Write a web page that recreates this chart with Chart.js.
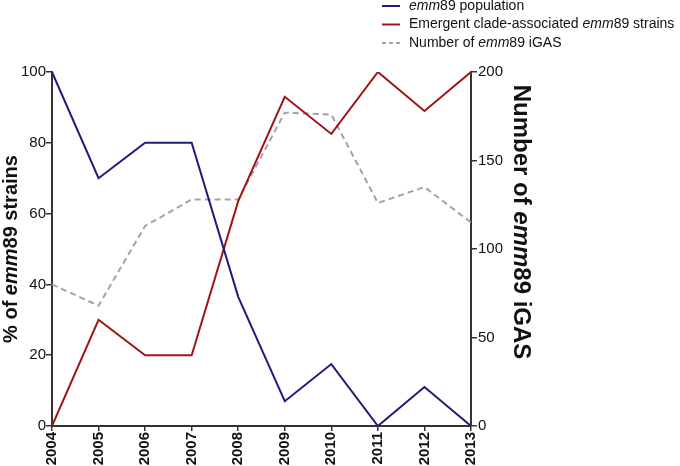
<!DOCTYPE html>
<html>
<head>
<meta charset="utf-8">
<script src="https://cdn.jsdelivr.net/npm/chart.js@4.4.1/dist/chart.umd.min.js"></script>
<style>
  html, body { margin: 0; padding: 0; background: #fff; }
  #wrap { width: 680px; height: 466px; }
</style>
</head>
<body>
<div id="wrap"><canvas id="chart" width="680" height="466"></canvas></div>
<script>
// Data
const years = ['2004', '2005', '2006', '2007', '2008', '2009', '2010', '2011', '2012', '2013'];
const emm89Population = [100, 70, 80, 80, 36.5, 7, 17.5, 0, 11, 0];
const emergentClade = [0, 30, 20, 20, 63.5, 93, 82.5, 100, 89, 100];
const iGASCount = [80, 68, 113, 128, 128, 177, 176, 126, 135, 115];

const blue = '#1c1c7c';
const red = '#a11414';
const grey = '#a3a3a3';
const axisColor = '#333333';

// draws text where some parts are italic
function drawParts(ctx, parts, size, weight) {
    let total = 0;
    parts.forEach(p => {
        ctx.font = `${p.i ? 'italic ' : ''}${weight} ${size}px "Liberation Sans", Arial, sans-serif`;
        p.w = ctx.measureText(p.t).width;
        total += p.w;
    });
    return total;
}

function writeParts(ctx, parts, x, y, size, weight) {
    let cx = x;
    parts.forEach(p => {
        ctx.font = `${p.i ? 'italic ' : ''}${weight} ${size}px "Liberation Sans", Arial, sans-serif`;
        ctx.fillText(p.t, cx, y);
        cx += p.w;
    });
}

const labelsPlugin = {
    id: 'labelsPlugin',
    afterDraw(chart) {
        const ctx = chart.ctx;
        const area = chart.chartArea;
        ctx.save();
        ctx.fillStyle = '#111';
        ctx.textBaseline = 'middle';
        ctx.textAlign = 'left';

        // Left axis title
        const leftParts = [{ t: '% of ' }, { t: 'emm', i: true }, { t: '89 strains' }];
        let w = drawParts(ctx, leftParts, 20, 'bold');
        ctx.save();
        ctx.translate(11, (area.top + area.bottom) / 2);
        ctx.rotate(-Math.PI / 2);
        writeParts(ctx, leftParts, -w / 2, 0, 20, 'bold');
        ctx.restore();

        // Right axis title
        const rightParts = [{ t: 'Number of ' }, { t: 'emm', i: true }, { t: '89 iGAS' }];
        w = drawParts(ctx, rightParts, 24, 'bold');
        ctx.save();
        ctx.translate(521, 222);
        ctx.rotate(Math.PI / 2);
        writeParts(ctx, rightParts, -w / 2, 0, 24, 'bold');
        ctx.restore();

        // Legend
        const rows = [
            { color: blue, dash: [], parts: [{ t: 'emm', i: true }, { t: '89 population' }] },
            { color: red, dash: [], parts: [{ t: 'Emergent clade-associated ' }, { t: 'emm', i: true }, { t: '89 strains' }] },
            { color: grey, dash: [4, 3], parts: [{ t: 'Number of ' }, { t: 'emm', i: true }, { t: '89 iGAS' }] }
        ];
        rows.forEach((r, i) => {
            const y = 6 + i * 18.5;
            ctx.strokeStyle = r.color;
            ctx.lineWidth = 2;
            ctx.setLineDash(r.dash);
            ctx.beginPath();
            ctx.moveTo(382, y);
            ctx.lineTo(400, y);
            ctx.stroke();
            ctx.setLineDash([]);
            drawParts(ctx, r.parts, 14, 'normal');
            writeParts(ctx, r.parts, 409, y, 14, 'normal');
        });
        ctx.restore();
    }
};

const tickFont = { family: '"Liberation Sans", Arial, sans-serif', size: 15 };

new Chart(document.getElementById('chart').getContext('2d'), {
    type: 'line',
    data: {
        labels: years,
        datasets: [
            {
                label: 'emm89 population',
                data: emm89Population,
                borderColor: blue,
                borderWidth: 2,
                pointRadius: 0,
                tension: 0,
                yAxisID: 'y'
            },
            {
                label: 'Emergent clade-associated emm89 strains',
                data: emergentClade,
                borderColor: red,
                borderWidth: 2,
                pointRadius: 0,
                tension: 0,
                yAxisID: 'y'
            },
            {
                label: 'Number of emm89 iGAS',
                data: iGASCount,
                borderColor: grey,
                borderWidth: 2,
                borderDash: [6, 4],
                pointRadius: 0,
                tension: 0,
                yAxisID: 'y1'
            }
        ]
    },
    options: {
        responsive: false,
        animation: false,
        layout: { padding: { top: 72, left: 0, right: 0, bottom: 0 } },
        plugins: {
            legend: { display: false },
            tooltip: { enabled: false }
        },
        scales: {
            x: {
                offset: false,
                grid: { drawOnChartArea: false, drawTicks: true, tickLength: 5, color: axisColor, lineWidth: 1.5 },
                border: { display: true, color: axisColor, width: 2 },
                ticks: {
                    color: '#111',
                    font: { ...tickFont, weight: 'bold' },
                    minRotation: 90,
                    maxRotation: 90,
                    padding: 1,
                    autoSkip: false
                },
                afterFit: (s) => { s.height = 40; }
            },
            y: {
                position: 'left',
                min: 0,
                max: 100,
                grid: { drawOnChartArea: false, drawTicks: true, tickLength: 6, color: axisColor, lineWidth: 1.5 },
                border: { display: true, color: axisColor, width: 2 },
                ticks: { stepSize: 20, color: '#111', font: tickFont, padding: 0 },
                afterFit: (s) => { s.width = 52; }
            },
            y1: {
                position: 'right',
                min: 0,
                max: 200,
                grid: { drawOnChartArea: false, drawTicks: true, tickLength: 6, color: axisColor, lineWidth: 1.5 },
                border: { display: true, color: axisColor, width: 2 },
                ticks: { stepSize: 50, color: '#111', font: tickFont, padding: 1 },
                afterFit: (s) => { s.width = 209; }
            }
        }
    },
    plugins: [labelsPlugin]
});
</script>
</body>
</html>
